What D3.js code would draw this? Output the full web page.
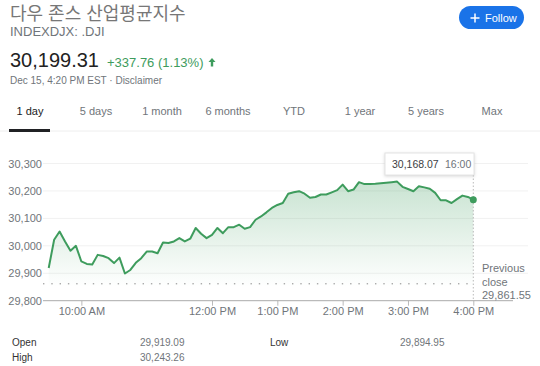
<!DOCTYPE html>
<html>
<head>
<meta charset="utf-8">
<script src="https://cdn.jsdelivr.net/npm/d3@7"></script>
<style>
  body { margin: 0; background: #fff; font-family: "Liberation Sans", Arial, "Noto Sans CJK KR", sans-serif; }
  svg text { font-family: "Liberation Sans", Arial, "Noto Sans CJK KR", sans-serif; }
</style>
</head>
<body>
<svg id="chart" width="540" height="366"></svg>
<script>
// intraday values, one every 5 minutes from 9:30 to 16:00
const startTime = "09:30";
const stepMinutes = 5;
const values = [
  29919, 30022, 30052, 30016, 29982, 30000, 29943, 29934, 29932, 29967,
  29963, 29955, 29937, 29957, 29899, 29912, 29938, 29955, 29979, 29979,
  29973, 30012, 30010, 30016, 30028, 30016, 30026, 30065, 30044, 30028,
  30040, 30065, 30046, 30068, 30068, 30077, 30062, 30068, 30095, 30107,
  30122, 30138, 30149, 30156, 30190, 30195, 30199, 30190, 30175, 30178,
  30187, 30187, 30195, 30203, 30223, 30199, 30205, 30232, 30225, 30225,
  30226, 30228, 30230, 30232, 30234, 30215, 30207, 30199, 30217, 30213,
  30208, 30193, 30166, 30166, 30156, 30170, 30183, 30178, 30168.07
];
const yTicks = [29800, 29900, 30000, 30100, 30200, 30300];
const xTicks = ["10:00", "12:00", "13:00", "14:00", "15:00", "16:00"];
const prevClose = 29861.55;
const tabs = ["1 day", "5 days", "1 month", "6 months", "YTD", "1 year", "5 years", "Max"];
const stats = [
  { label: "Open", value: "29,919.09" },
  { label: "Low", value: "29,894.95" },
  { label: "High", value: "30,243.26" }
];

const parse = d3.timeParse("%H:%M");
const t0 = parse(startTime);
const data = values.map((v, i) => ({ t: d3.timeMinute.offset(t0, i * stepMinutes), v }));

const svg = d3.select("#chart");
const green = "#3e9c5d";
const grey = "#70757a";

// header
svg.append("text").attr("x", 10).attr("y", 20).attr("font-size", 18).attr("fill", "#777")
  .text("다우 존스 산업평균지수");
svg.append("text").attr("x", 10).attr("y", 36).attr("font-size", 13).attr("fill", grey).text("INDEXDJX: .DJI");
svg.append("text").attr("x", 10).attr("y", 67).attr("font-size", 20).attr("fill", "#222").text("30,199.31");
svg.append("text").attr("x", 107).attr("y", 67).attr("font-size", 13).attr("fill", green).text("+337.76 (1.13%)");
// up arrow
svg.append("path").attr("d", "M212,58 l-3.5,4 h2.3 v4.5 h2.4 v-4.5 h2.3 z").attr("fill", green);
svg.append("text").attr("x", 10).attr("y", 84).attr("font-size", 10).attr("fill", grey)
  .text("Dec 15, 4:20 PM EST · Disclaimer");

// follow button
svg.append("rect").attr("x", 459).attr("y", 6).attr("width", 65).attr("height", 23).attr("rx", 11.5).attr("fill", "#1a73e8");
svg.append("path").attr("d", "M475,13.5 v9 M470.5,18 h9").attr("stroke", "#fff").attr("stroke-width", 1.5);
svg.append("text").attr("x", 485).attr("y", 22).attr("font-size", 11).attr("fill", "#fff").text("Follow");

// tabs
const tabX = d3.scalePoint().domain(tabs).range([30, 492]);
svg.append("line").attr("x1", 0).attr("x2", 540).attr("y1", 131).attr("y2", 131).attr("stroke", "#eee");
svg.selectAll(".tab").data(tabs).join("text")
  .attr("x", d => tabX(d)).attr("y", 115).attr("text-anchor", "middle").attr("font-size", 11)
  .attr("fill", (d, i) => i === 0 ? "#202124" : grey).text(d => d);
svg.append("rect").attr("x", 9).attr("y", 129).attr("width", 41).attr("height", 3).attr("fill", "#202124");

// chart
const x = d3.scaleTime().domain([t0, parse("16:00")]).range([48.7, 473.3]);
const y = d3.scaleLinear().domain([29800, 30300]).range([300.7, 163.5]);
const left = 43, right = 528;

svg.append("g").selectAll("line").data(yTicks.slice(1)).join("line")
  .attr("x1", left).attr("x2", right).attr("y1", d => y(d)).attr("y2", d => y(d))
  .attr("stroke", "#f1f1f1");
svg.append("g").selectAll("text").data(yTicks).join("text")
  .attr("x", left - 1).attr("y", d => y(d) + 4).attr("text-anchor", "end")
  .attr("font-size", 11).attr("fill", grey).text(d => d3.format(",")(d));

const defs = svg.append("defs");
const grad = defs.append("linearGradient").attr("id", "fill").attr("x1", 0).attr("x2", 0).attr("y1", 0).attr("y2", 1);
grad.append("stop").attr("offset", "0%").attr("stop-color", green).attr("stop-opacity", 0.28);
grad.append("stop").attr("offset", "100%").attr("stop-color", green).attr("stop-opacity", 0);

svg.append("path").datum(data)
  .attr("d", d3.area().x(d => x(d.t)).y0(y(29850)).y1(d => y(d.v)))
  .attr("fill", "url(#fill)");

// previous close
svg.append("line").attr("x1", left).attr("x2", x(parse("16:00"))).attr("y1", y(prevClose)).attr("y2", y(prevClose))
  .attr("stroke", "#888").attr("stroke-width", 1).attr("stroke-dasharray", "1.4,6.9");

svg.append("path").datum(data)
  .attr("d", d3.line().x(d => x(d.t)).y(d => y(d.v)))
  .attr("fill", "none").attr("stroke", green).attr("stroke-width", 2).attr("stroke-linejoin", "round");

// x axis
const xAxis = d3.axisBottom(x).tickValues(xTicks.map(parse)).tickSize(5).tickFormat(d3.timeFormat("%-I:%M %p"));
const gx = svg.append("g").attr("transform", `translate(0,${y(29800)})`).call(xAxis);
gx.select(".domain").remove();
gx.selectAll(".tick line").attr("stroke", "#bbb");
gx.selectAll(".tick text").attr("font-size", 11).attr("fill", grey).attr("dy", "0.6em")
  .style("font-family", "'Liberation Sans', Arial, sans-serif");
svg.append("line").attr("x1", left).attr("x2", 513).attr("y1", y(29800)).attr("y2", y(29800)).attr("stroke", "#aaa");

// hover marker
const last = data[data.length - 1];
svg.append("line").attr("x1", x(last.t)).attr("x2", x(last.t)).attr("y1", 175).attr("y2", y(29800))
  .attr("stroke", "#bbb").attr("stroke-dasharray", "1.5,2");
svg.append("circle").attr("cx", x(last.t)).attr("cy", y(last.v)).attr("r", 3.5).attr("fill", green);
svg.append("rect").attr("x", 385).attr("y", 153).attr("width", 89).attr("height", 22)
  .attr("fill", "#fff").attr("stroke", "#e4e4e4").style("filter", "drop-shadow(0 1px 1.5px rgba(0,0,0,0.15))");
svg.append("text").attr("x", 392).attr("y", 168).attr("font-size", 10.5).attr("fill", "#3c4043")
  .text(d3.format(",.2f")(last.v));
svg.append("text").attr("x", 445).attr("y", 168).attr("font-size", 10.5).attr("fill", grey).text("16:00");

// previous close label
svg.append("text").attr("x", 482).attr("y", 272).attr("font-size", 11).attr("fill", grey).text("Previous");
svg.append("text").attr("x", 482).attr("y", 285.5).attr("font-size", 11).attr("fill", grey).text("close");
svg.append("text").attr("x", 482).attr("y", 298.5).attr("font-size", 11).attr("fill", grey).text(d3.format(",.2f")(prevClose));

// stats
const statPos = [[12, 140, 346], [270, 400, 346], [12, 140, 361]];
stats.forEach((s, i) => {
  const [lx, vx, sy] = statPos[i];
  svg.append("text").attr("x", lx).attr("y", sy).attr("font-size", 10).attr("fill", "#333").text(s.label);
  svg.append("text").attr("x", vx).attr("y", sy).attr("font-size", 10).attr("fill", grey).text(s.value);
});
</script>
</body>
</html>
